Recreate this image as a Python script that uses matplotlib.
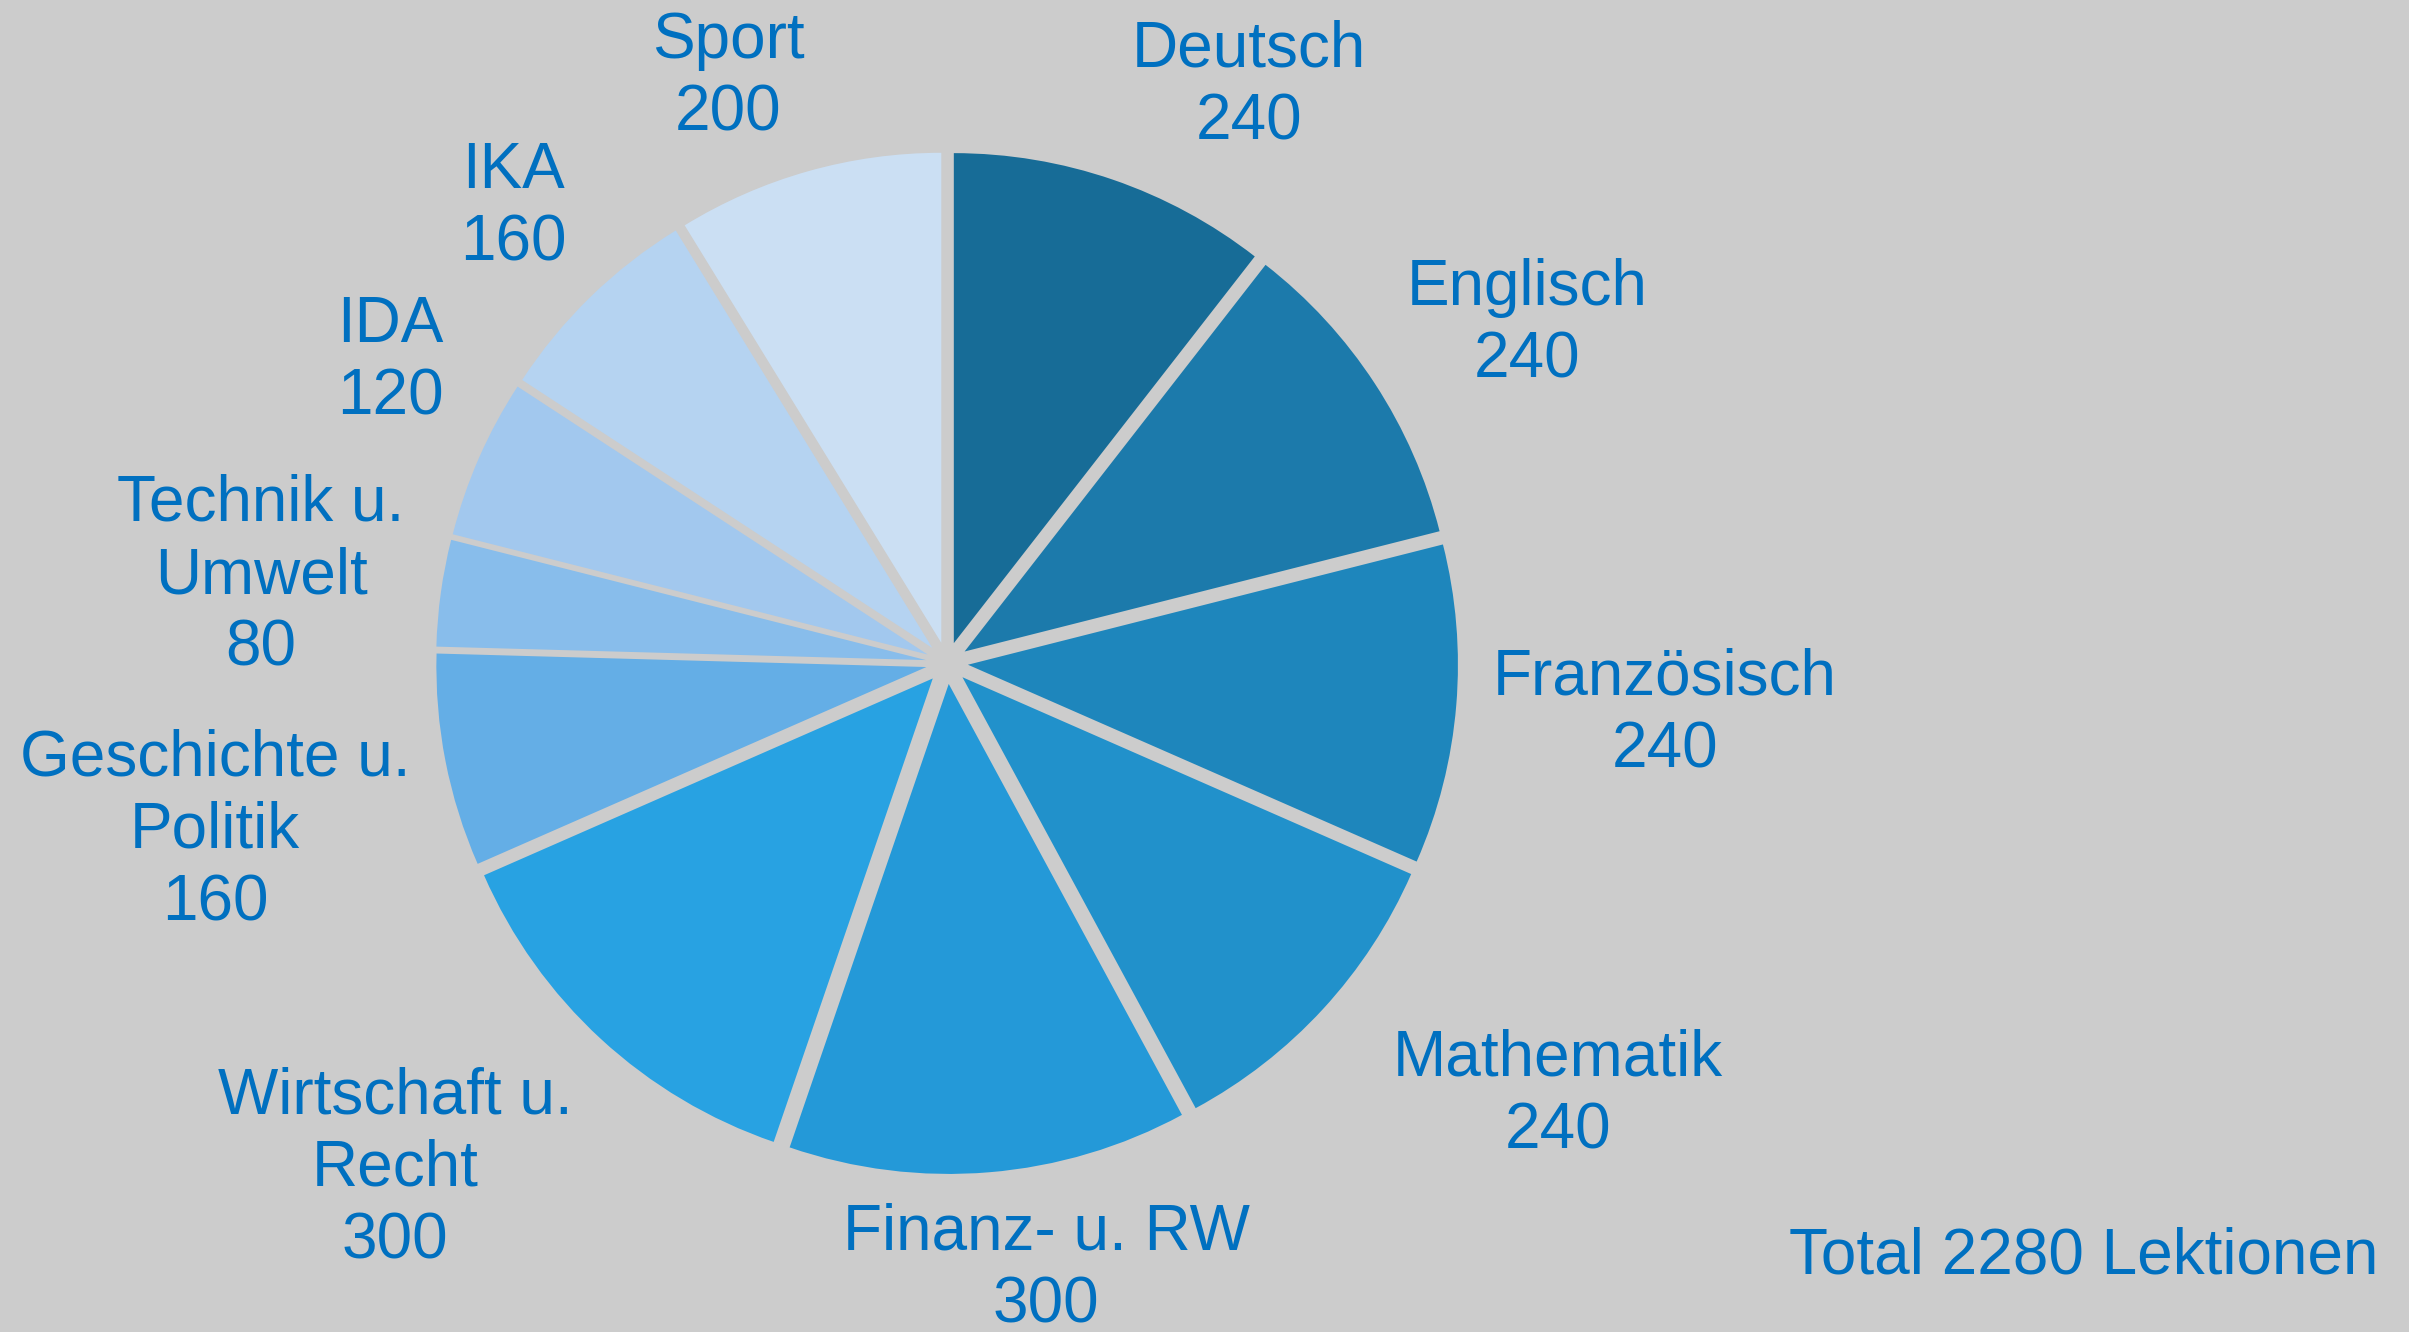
import matplotlib
matplotlib.use("Agg")
import matplotlib.pyplot as plt

subjects = ["Deutsch", "Englisch", "Französisch", "Mathematik", "Finanz- u. RW",
            "Wirtschaft u.\nRecht", "Geschichte u.\nPolitik", "Technik u.\nUmwelt",
            "IDA", "IKA", "Sport"]
lessons = [240, 240, 240, 240, 300, 300, 160, 80, 120, 160, 200]
colors = ["#176c97", "#1c7aab", "#1e86bc", "#2191cb", "#2499d8", "#28a2e2",
          "#64aee6", "#88bdeb", "#a2c8ee", "#b5d3f1", "#cbdff3"]
total_label = "Total 2280 Lektionen"

# label centres in figure pixels (x, y from top)
label_pos = [(1249, 86), (1527, 324), (1665, 714), (1558, 1095), (1046, 1269),
             (395, 1169), (215, 831), (261, 576), (390, 361), (513, 207), (728, 77)]

W, H = 2409, 1332
bg = "#cccccc"
txt = "#0070c0"

plt.rcParams["font.family"] = ["Liberation Sans", "DejaVu Sans"]

fig = plt.figure(figsize=(W / 100, H / 100), dpi=100, facecolor=bg)
ax = fig.add_axes([0, 0, 1, 1])
ax.set_facecolor(bg)

ax.pie(lessons, colors=colors, startangle=90, counterclock=False,
       center=(947, H - 663), radius=490, explode=[21] * len(lessons),
       wedgeprops=dict(linewidth=0))

for name, val, (x, y) in zip(subjects, lessons, label_pos):
    ax.text(x, H - y, f"{name}\n{val}", ha="center", va="center",
            fontsize=46, color=txt, linespacing=1.26)

ax.text(2378, H - 1257, total_label, ha="right", va="center",
        fontsize=46, color=txt)

ax.set_xlim(0, W)
ax.set_ylim(0, H)
ax.set_aspect("equal")
ax.axis("off")

fig.savefig("out.png", dpi=100, facecolor=bg)
